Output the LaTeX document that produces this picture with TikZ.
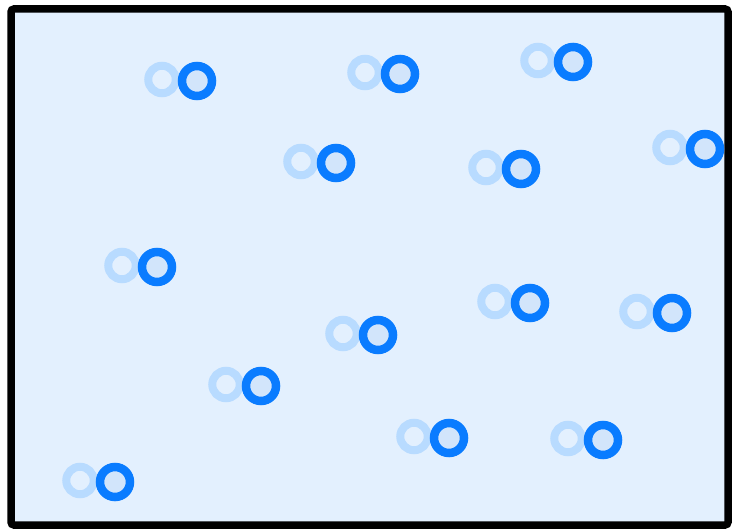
\documentclass[tikz,border=0pt]{standalone}
\usetikzlibrary{positioning}
\definecolor{paleBg}{HTML}{E3F0FE}
\definecolor{ghostBlue}{HTML}{B8DBFF}
\definecolor{brightBlue}{HTML}{0A7CFF}
\definecolor{dotFill}{HTML}{D2E5FB}

\begin{document}
\begin{tikzpicture}[
    x=1pt, y=-1pt,
    frame/.style={draw=black, line width=7.5pt, fill=paleBg, rounded corners=3pt},
    ghost/.style={circle, draw=ghostBlue, line width=8pt, minimum size=27.5pt, inner sep=0pt, fill=paleBg},
    dot/.style={circle, draw=brightBlue, line width=8.5pt, minimum size=30pt, inner sep=0pt, fill=dotFill}
]
\useasboundingbox (0,0) rectangle (738,529);
% --- Box ---
\draw[frame] (11,9) rectangle (728,525);
% --- Moving particles (trail + current position) ---
\foreach \x/\y [count=\i] in {197/81, 400/74, 573/62, 336/163, 521/169, 705/149,
    157/267, 530/303, 672/313, 378/335, 261/386, 449/438, 603/440, 115/482} {
  \node[ghost] (g\i) at (\x-35,\y-1.5) {};
  \node[dot] (d\i) at (\x,\y) {};
}
\end{tikzpicture}
\end{document}
